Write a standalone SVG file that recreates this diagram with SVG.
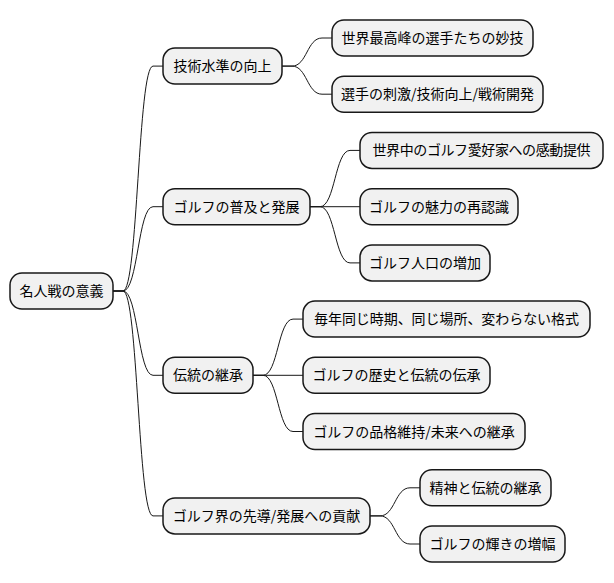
<svg xmlns="http://www.w3.org/2000/svg" width="614" height="583" viewBox="0 0 614 583">
<style>
.n{fill:#F1F1F1;stroke:#181818;stroke-width:1.5}
.t{font-family:"Noto Sans CJK JP","Noto Sans",sans-serif;font-size:14px;fill:#000;text-anchor:middle}
.c{fill:none;stroke:#181818;stroke-width:1}
</style>
<rect width="614" height="583" fill="#FFFFFF"/>
<g id="connectors">
<path class="c" d="M113,291 L123,291 C138,291 138,66.1 153,66.1 L163,66.1"/>
<path class="c" d="M113,291 L123,291 C138,291 138,206.7 153,206.7 L163,206.7"/>
<path class="c" d="M113,291 L123,291 C138,291 138,375.3 153,375.3 L163,375.3"/>
<path class="c" d="M113,291 L123,291 C138,291 138,515.9 153,515.9 L163,515.9"/>
<path class="c" d="M282,66.1 L292,66.1 C307,66.1 307,38 322,38 L332,38"/>
<path class="c" d="M282,66.1 L292,66.1 C307,66.1 307,94.2 322,94.2 L332,94.2"/>
<path class="c" d="M310,206.7 L320,206.7 C335,206.7 335,150.4 350,150.4 L360,150.4"/>
<path class="c" d="M310,206.7 L360,206.7"/>
<path class="c" d="M310,206.7 L320,206.7 C335,206.7 335,262.9 350,262.9 L360,262.9"/>
<path class="c" d="M253,375.3 L263,375.3 C278,375.3 278,319.1 293,319.1 L303,319.1"/>
<path class="c" d="M253,375.3 L303,375.3"/>
<path class="c" d="M253,375.3 L263,375.3 C278,375.3 278,431.5 293,431.5 L303,431.5"/>
<path class="c" d="M370,515.9 L380,515.9 C395,515.9 395,487.8 410,487.8 L420,487.8"/>
<path class="c" d="M370,515.9 L380,515.9 C395,515.9 395,544 410,544 L420,544"/>
</g>
<g id="root"><rect class="n" x="10" y="273" width="103" height="36" rx="12"/><text class="t" x="61.5" y="296">名人戦の意義</text></g>
<g id="n1"><rect class="n" x="163" y="48.1" width="119" height="36" rx="12"/><text class="t" x="222.5" y="71.1">技術水準の向上</text></g>
<g id="n2"><rect class="n" x="163" y="188.7" width="147" height="36" rx="12"/><text class="t" x="236.5" y="211.7">ゴルフの普及と発展</text></g>
<g id="n3"><rect class="n" x="163" y="357.3" width="90" height="36" rx="12"/><text class="t" x="208" y="380.3">伝統の継承</text></g>
<g id="n4"><rect class="n" x="163" y="497.9" width="207" height="36" rx="12"/><text class="t" x="266.5" y="520.9">ゴルフ界の先導/発展への貢献</text></g>
<g id="n11"><rect class="n" x="332" y="20" width="201" height="36" rx="12"/><text class="t" x="432.5" y="43">世界最高峰の選手たちの妙技</text></g>
<g id="n12"><rect class="n" x="332" y="76.2" width="211" height="36" rx="12"/><text class="t" x="437.5" y="99.2">選手の刺激/技術向上/戦術開発</text></g>
<g id="n21"><rect class="n" x="360" y="132.4" width="243" height="36" rx="12"/><text class="t" x="481.5" y="155.4" textLength="218" lengthAdjust="spacing">世界中のゴルフ愛好家への感動提供</text></g>
<g id="n22"><rect class="n" x="360" y="188.7" width="158" height="36" rx="12"/><text class="t" x="439" y="211.7">ゴルフの魅力の再認識</text></g>
<g id="n23"><rect class="n" x="360" y="244.9" width="130" height="36" rx="12"/><text class="t" x="425" y="267.9">ゴルフ人口の増加</text></g>
<g id="n31"><rect class="n" x="303" y="301.1" width="287" height="36" rx="12"/><text class="t" x="446.5" y="324.1" textLength="265" lengthAdjust="spacing">毎年同じ時期、同じ場所、変わらない格式</text></g>
<g id="n32"><rect class="n" x="303" y="357.3" width="187" height="36" rx="12"/><text class="t" x="396.5" y="380.3">ゴルフの歴史と伝統の伝承</text></g>
<g id="n33"><rect class="n" x="303" y="413.5" width="222" height="36" rx="12"/><text class="t" x="414" y="436.5">ゴルフの品格維持/未来への継承</text></g>
<g id="n41"><rect class="n" x="420" y="469.8" width="131" height="36" rx="12"/><text class="t" x="485.5" y="492.8">精神と伝統の継承</text></g>
<g id="n42"><rect class="n" x="420" y="526" width="145" height="36" rx="12"/><text class="t" x="492.5" y="549">ゴルフの輝きの増幅</text></g>
</svg>
